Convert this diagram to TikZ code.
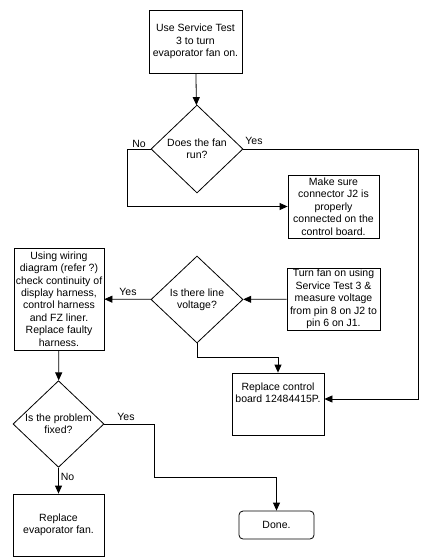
\documentclass[tikz,border=0pt]{standalone}
\usepackage{fontspec}
\setmainfont{Liberation Sans}
\usepackage{xcolor}
\usetikzlibrary{arrows.meta,positioning,shapes.geometric,calc}

\begin{document}
\begin{tikzpicture}[x=1pt,y=-1pt,line width=0.8pt,
  every node/.style={font=\fontsize{10.5}{12.4}\selectfont,align=center,inner sep=0pt},
  stepbox/.style={draw,rectangle},
  askbox/.style={draw,diamond,minimum width=92pt,minimum height=88pt},
  endbox/.style={draw,rectangle,rounded corners=4pt},
  arr/.style={-{Triangle[length=8pt,width=7pt]}},
  lbl/.style={font=\fontsize{10.5}{12}\selectfont}]
\useasboundingbox (0,0) rectangle (441,559);
% steps
\node[stepbox,minimum width=93pt,minimum height=63pt] (start) at (195.5,41.5)
  {Use Service Test\\3 to turn\\evaporator fan on.};
\node[askbox] (fanruns) at (197,149) {Does the fan\\run?};
\node[stepbox,minimum width=91pt,minimum height=63pt] (checkjtwo) at (333.5,206.5)
  {Make sure\\connector J2 is\\properly\\connected on the\\control board.};
\node[stepbox,minimum width=93pt,minimum height=62pt] (measure) at (333.5,299)
  {Turn fan on using\\Service Test 3 \&\\measure voltage\\from pin 8 on J2 to\\pin 6 on J1.};
\node[askbox,minimum height=87pt] (voltage) at (197,299.5) {Is there line\\voltage?};
\node[stepbox,minimum width=90pt,minimum height=102pt] (wiring) at (59,299)
  {Using wiring\\diagram (refer ?)\\check continuity of\\display harness,\\control harness\\and FZ liner.\\Replace faulty\\harness.};
\node[stepbox,minimum width=92pt,minimum height=62pt] (board) at (278,404)
  {Replace control\\board 12484415P.\\[10pt]};
\node[askbox,minimum width=91pt,minimum height=86pt] (fixed) at (58.5,424) {Is the problem\\fixed?};
\node[stepbox,minimum width=91pt,minimum height=62pt] (fan) at (58.5,525)
  {Replace\\evaporator fan.};
\node[endbox,minimum width=75pt,minimum height=28pt] (done) at (276.5,525) {Done.};
% connectors
\draw[arr] (start) -- (fanruns);
\draw[arr] (fanruns.west) -- ++(-23,0) |- (checkjtwo.west);
\draw[arr] (fanruns.east) -- ++(175,0) |- ([yshift=5pt]board.east);
\draw[arr] (measure) -- (voltage);
\draw[arr] (voltage) -- (wiring);
\draw[arr] (voltage.south) -- ++(0,14) -| (board.north);
\draw[arr] (wiring) -- (fixed);
\draw[arr] (fixed.east) -- ++(50,0) -- ++(0,53) -| (done.north);
\draw[arr] (fixed) -- (fan);
% labels
\node[lbl] at (139,143.5) {No};
\node[lbl] at (254,141) {Yes};
\node[lbl] at (128,292) {Yes};
\node[lbl] at (126,417) {Yes};
\node[lbl] at (67.5,476.5) {No};
\end{tikzpicture}
\end{document}
